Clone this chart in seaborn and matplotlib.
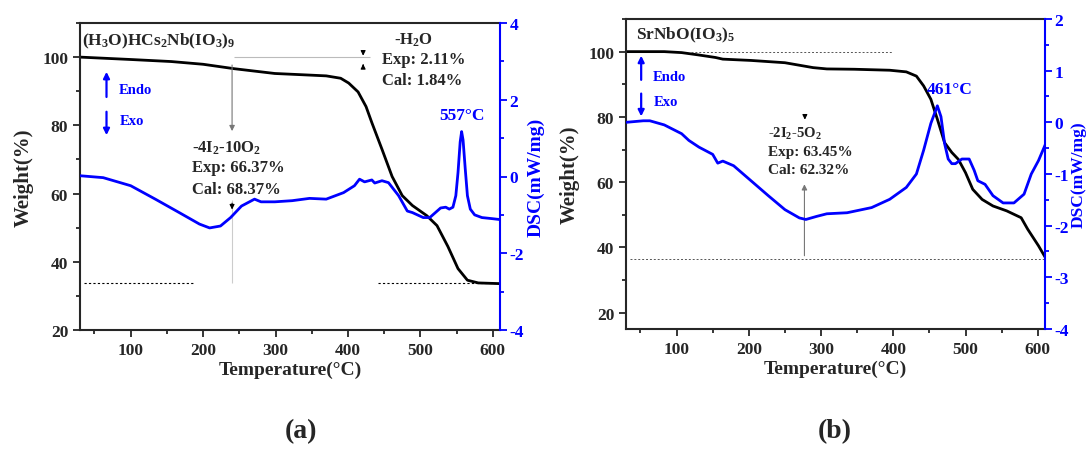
import matplotlib.pyplot as plt
import seaborn as sns
from matplotlib.ticker import MultipleLocator

# (a) (H3O)HCs2Nb(IO3)9 -- TGA (weight %) and DSC (mW/mg) vs temperature
tga_a_temp = [30, 60, 100, 156, 200, 243, 299, 340, 370, 390, 401, 414, 425, 433, 447, 461,
              475, 489, 509, 523, 538, 552, 565, 580, 609]
tga_a_weight = [100, 99.7, 99.3, 98.7, 97.9, 96.6, 95.2, 94.8, 94.5, 93.8, 92.4, 89.8, 85.5,
                80.8, 73, 65, 59.4, 56.5, 53.5, 50.6, 44.5, 38, 34.6, 33.8, 33.6]
dsc_a_temp = [30, 62, 100, 134, 167, 195, 209, 224, 238, 253, 271, 280, 299, 323, 347, 370,
              394, 409, 416, 423, 433, 437, 447, 456, 470, 482, 489, 504, 513, 528, 535, 540,
              545, 549, 552, 555, 557, 559, 562, 565, 569, 575, 585, 600, 609]
dsc_a_heat = [0.02, -0.03, -0.24, -0.59, -0.94, -1.24, -1.34, -1.29, -1.07, -0.77, -0.59,
              -0.66, -0.66, -0.63, -0.57, -0.59, -0.42, -0.24, -0.07, -0.14, -0.09, -0.17,
              -0.11, -0.16, -0.5, -0.9, -0.94, -1.07, -1.07, -0.82, -0.80, -0.85, -0.8, -0.5,
              0.1, 0.9, 1.17, 0.95, 0.2, -0.5, -0.85, -1.0, -1.07, -1.1, -1.12]

# (b) SrNbO(IO3)5
tga_b_temp = [30, 83, 107, 130, 154, 164, 203, 250, 289, 308, 346, 395, 418, 432, 442, 452,
              461, 471, 481, 490, 500, 510, 523, 538, 557, 577, 586, 601, 611]
tga_b_weight = [100, 100, 99.7, 99, 98.2, 97.7, 97.3, 96.6, 95.1, 94.7, 94.6, 94.3, 93.8,
                92.5, 89.5, 85.4, 79.3, 72.1, 69.1, 67, 62.9, 57.8, 54.7, 52.7, 51.2, 49.1,
                45.6, 40.5, 36.7]
dsc_b_temp = [30, 54, 63, 83, 107, 117, 131, 150, 157, 164, 179, 203, 227, 250, 270, 279,
              294, 308, 336, 370, 395, 418, 432, 442, 452, 461, 466, 471, 476, 481, 486, 495,
              505, 512, 517, 527, 538, 552, 567, 581, 591, 601, 611]
dsc_b_heat = [0.0, 0.03, 0.03, -0.05, -0.22, -0.35, -0.48, -0.62, -0.79, -0.75, -0.84,
              -1.13, -1.42, -1.69, -1.85, -1.88, -1.82, -1.77, -1.75, -1.65, -1.49, -1.26,
              -1.0, -0.54, -0.02, 0.32, 0.11, -0.41, -0.71, -0.80, -0.8, -0.71, -0.71, -0.93,
              -1.13, -1.2, -1.42, -1.56, -1.56, -1.39, -1.0, -0.74, -0.41]

residue_a = 33.8
residue_b = 36.6

BLUE = '#0000ff'

sns.set_style('ticks')
plt.rcParams['font.family'] = ['Liberation Serif', 'DejaVu Serif']
plt.rcParams['font.weight'] = 'bold'
plt.rcParams['axes.labelweight'] = 'bold'
plt.rcParams['axes.unicode_minus'] = False
plt.rcParams['mathtext.fontset'] = 'custom'
plt.rcParams['mathtext.rm'] = 'Liberation Serif:bold'
plt.rcParams['mathtext.bf'] = 'Liberation Serif:bold'
plt.rcParams['mathtext.default'] = 'bf'

fig = plt.figure(figsize=(10.89, 4.64), dpi=100)
fig.patch.set_facecolor('white')
ax_a = fig.add_axes([80 / 1089, 1 - 331 / 464, 420 / 1089, 307 / 464])
ax_b = fig.add_axes([626 / 1089, 1 - 330 / 464, 419 / 1089, 310 / 464])


def draw_panel(ax, tga_t, tga_w, dsc_t, dsc_h, wlim, dlim, dmaj, dmin, dsc_size, dsc_pad):
    sns.lineplot(x=tga_t, y=tga_w, ax=ax, color='black', lw=2, sort=False, estimator=None)
    ax.set_xlim(30, 610)
    ax.set_ylim(*wlim)
    ax.xaxis.set_major_locator(MultipleLocator(100))
    ax.xaxis.set_minor_locator(MultipleLocator(50))
    ax.yaxis.set_major_locator(MultipleLocator(20))
    ax.yaxis.set_minor_locator(MultipleLocator(10))
    ax.set_xlabel('Temperature(°C)', fontsize=14, labelpad=2)
    ax.set_ylabel('Weight(%)', fontsize=15, labelpad=6)
    ax.tick_params(which='both', direction='out', width=1.3, labelsize=12.5, top=False)
    ax.tick_params(which='major', length=5)
    ax.tick_params(which='minor', length=3)
    for s in ['left', 'bottom', 'top']:
        ax.spines[s].set_linewidth(1.5)
    ax.spines['right'].set_visible(False)

    ax2 = ax.twinx()
    sns.lineplot(x=dsc_t, y=dsc_h, ax=ax2, color=BLUE, lw=2, sort=False, estimator=None)
    ax2.set_ylim(*dlim)
    ax2.yaxis.set_major_locator(MultipleLocator(dmaj))
    ax2.yaxis.set_minor_locator(MultipleLocator(dmin))
    ax2.set_ylabel('DSC(mW/mg)', fontsize=dsc_size, color=BLUE, labelpad=dsc_pad)
    ax2.tick_params(which='both', direction='out', width=1.3, labelsize=12.5,
                    colors=BLUE, pad=2)
    ax2.tick_params(which='major', length=5)
    ax2.tick_params(which='minor', length=3)
    for s in ['left', 'bottom', 'top']:
        ax2.spines[s].set_visible(False)
    ax2.spines['right'].set_color(BLUE)
    ax2.spines['right'].set_linewidth(1.5)
    return ax2


draw_panel(ax_a, tga_a_temp, tga_a_weight, dsc_a_temp, dsc_a_heat,
           (20, 110), (-4, 4), 2, 1, 14, 2)
draw_panel(ax_b, tga_b_temp, tga_b_weight, dsc_b_temp, dsc_b_heat,
           (15, 110), (-4, 2), 1, 0.5, 12.5, 1)

gray_arrow = dict(arrowstyle='-|>', color='#777777', lw=0.8, mutation_scale=8)
black_arrow = dict(arrowstyle='-|>', color='black', lw=0.8, mutation_scale=7)
blue_arrow = dict(arrowstyle='-|>', color=BLUE, lw=1.6, mutation_scale=9)

# ---- panel (a) annotations
ax = ax_a
ax.text(33, 105, r'$(H_3O)HCs_2Nb(IO_3)_9$', fontsize=12.5, va='center')
ax.hlines(residue_a, 36, 187, colors='black', linestyles=(0, (2, 2)), lw=0.8)
ax.hlines(residue_a, 441, 609, colors='black', linestyles=(0, (2, 2)), lw=0.8)
ax.hlines(100.1, 243, 431, colors='#bbbbbb', lw=0.8)
ax.annotate('', xy=(240, 77.5), xytext=(240, 98.5), arrowprops=gray_arrow)
ax.vlines(240, residue_a, 58, colors='#cccccc', lw=0.8)
ax.annotate('', xy=(240, 54.5), xytext=(240, 58), arrowprops=black_arrow)
ax.annotate('', xy=(421, 99.6), xytext=(421, 102), arrowprops=black_arrow)
ax.annotate('', xy=(421, 98.8), xytext=(421, 96.6), arrowprops=black_arrow)
ax.text(490, 105.3, '-H$_2$O', fontsize=12, ha='center', va='center')
ax.text(447, 99.3, 'Exp: 2.11%', fontsize=12, va='center')
ax.text(447, 93.3, 'Cal: 1.84%', fontsize=12, va='center')
ax.text(185, 73.6, '-4I$_2$-10O$_2$', fontsize=12, va='center')
ax.text(185, 67.7, 'Exp: 66.37%', fontsize=12, va='center')
ax.text(185, 61.3, 'Cal: 68.37%', fontsize=12, va='center')
ax.annotate('', xy=(66.6, 96.5), xytext=(66.6, 87.5), arrowprops=blue_arrow)
ax.annotate('', xy=(66.6, 76.3), xytext=(66.6, 84.8), arrowprops=blue_arrow)
ax.text(84, 90.5, 'Endo', fontsize=10.5, color=BLUE, va='center')
ax.text(85, 81.4, 'Exo', fontsize=10.5, color=BLUE, va='center')
ax.text(558, 83.1, '557°C', fontsize=12.5, color=BLUE, ha='center', va='center')

# ---- panel (b) annotations
ax = ax_b
ax.text(44, 105.3, r'$SrNbO(IO_3)_5$', fontsize=12.5, va='center')
ax.hlines(100, 120, 398, colors='#555555', linestyles=(0, (2, 2)), lw=0.7)
ax.hlines(residue_b, 35, 610, colors='#555555', linestyles=(0, (2, 2)), lw=0.7)
ax.annotate('', xy=(277, 60.2), xytext=(277, residue_b), arrowprops=gray_arrow)
ax.annotate('', xy=(277.6, 78.3), xytext=(277.6, 80.8), arrowprops=black_arrow)
ax.text(227, 75.2, '-2I$_2$-5O$_2$', fontsize=10.5, va='center')
ax.text(227, 69.4, 'Exp: 63.45%', fontsize=11, va='center')
ax.text(227, 63.8, 'Cal: 62.32%', fontsize=11, va='center')
ax.annotate('', xy=(51, 99.6), xytext=(51, 90.5), arrowprops=blue_arrow)
ax.annotate('', xy=(51, 79.3), xytext=(51, 88), arrowprops=blue_arrow)
ax.text(67, 92.5, 'Endo', fontsize=10.5, color=BLUE, va='center')
ax.text(69, 84.8, 'Exo', fontsize=10.5, color=BLUE, va='center')
ax.text(447, 88.5, '461°C', fontsize=12.5, color=BLUE, va='center')

fig.text(301 / 1089, 1 - 432 / 464, '(a)', fontsize=20, ha='center', va='center')
fig.text(835 / 1089, 1 - 432 / 464, '(b)', fontsize=20, ha='center', va='center')

fig.savefig('out.png', dpi=100, facecolor='white')
